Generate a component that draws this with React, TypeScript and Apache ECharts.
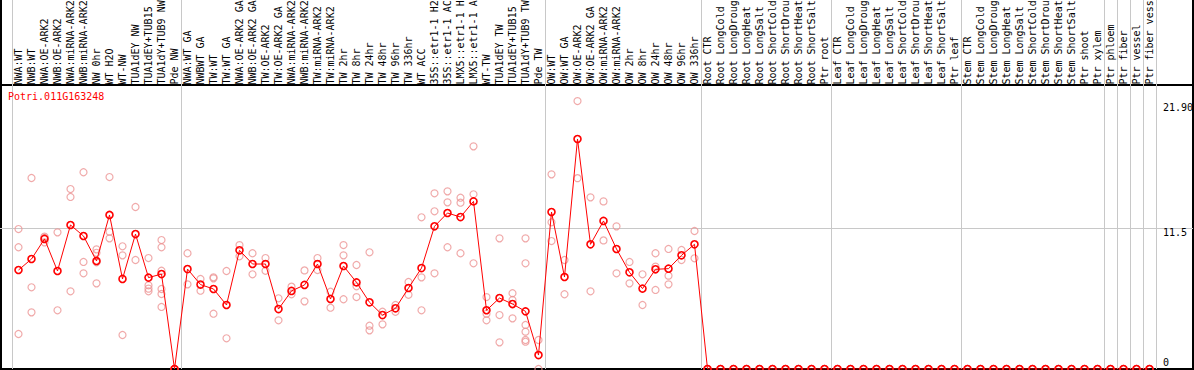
import React, { useEffect, useRef } from "react";
import * as echarts from "echarts";

const geneId = "Potri.011G163248";

const categories = [
  "NWA:WT", "NWB:WT", "NWA:OE-ARK2", "NWB:OE-ARK2", "NWA:miRNA-ARK2", "NWB:miRNA-ARK2",
  "NW 0hr", "WT H2O", "WT-NW", "TUA1dEY NW", "TUA1dEY+TUB15 NW", "TUA1dY+TUB9 NW", "Pde NW",
  "NWA:WT GA", "NWBWT GA", "TW:WT", "TW:WT GA", "NWA:OE-ARK2 GA", "NWB:OE-ARK2 GA",
  "TW:OE-ARK2", "TW:OE-ARK2 GA", "NWA:miRNA-ARK2 GA", "NWB:miRNA-ARK2 GA", "TW:miRNA-ARK2",
  "TW:miRNA-ARK2 GA", "TW 2hr", "TW 8hr", "TW 24hr", "TW 48hr", "TW 96hr", "TW 336hr", "WT ACC",
  "35S::etr1-1 H2O", "35S::etr1-1 ACC", "LMX5::etr1-1 H2O", "LMX5::etr1-1 ACC", "WT-TW",
  "TUA1dEY TW", "TUA1dEY+TUB15 TW", "TUA1dY+TUB9 TW", "Pde TW",
  "OW:WT", "OW:WT GA", "OW:OE-ARK2", "OW:OE-ARK2 GA", "OW:miRNA-ARK2", "OW:miRNA-ARK2 GA",
  "OW 2hr", "OW 8hr", "OW 24hr", "OW 48hr", "OW 96hr", "OW 336hr",
  "Root CTR", "Root LongCold", "Root LongDrought", "Root LongHeat", "Root LongSalt",
  "Root ShortCold", "Root ShortDrought", "Root ShortHeat", "Root ShortSalt", "Ptr root",
  "Leaf CTR", "Leaf LongCold", "Leaf LongDrought", "Leaf LongHeat", "Leaf LongSalt",
  "Leaf ShortCold", "Leaf ShortDrought", "Leaf ShortHeat", "Leaf ShortSalt", "Ptr leaf",
  "Stem CTR", "Stem LongCold", "Stem LongDrought", "Stem LongHeat", "Stem LongSalt",
  "Stem ShortCold", "Stem ShortDrought", "Stem ShortHeat", "Stem ShortSalt", "Ptr shoot", "Ptr xylem",
  "Ptr phloem", "Ptr fiber", "Ptr vessel", "Ptr fiber vessel",
];

const meanValues = [
  8.09, 8.99, 10.63, 8.01, 11.77, 10.87, 8.83, 12.59, 7.36, 11.03, 7.47, 7.76, 0,
  8.17, 6.9, 6.54, 5.23, 9.7, 8.58, 8.58, 4.9, 6.38, 6.87, 8.58, 5.72, 8.42, 7.08, 5.45,
  4.41, 4.96, 6.62, 8.25, 11.66, 12.75, 12.42, 13.7, 4.8, 5.8, 5.31, 4.71, 1.14,
  12.83, 7.52, 18.8, 10.19, 12.1, 9.81, 7.9, 6.57, 8.15, 8.2, 9.29, 10.19,
  0, 0, 0, 0, 0, 0, 0, 0, 0, 0,
  0, 0, 0, 0, 0, 0, 0, 0, 0, 0,
  0, 0, 0, 0, 0, 0, 0, 0, 0, 0, 0,
  0, 0, 0, 0,
];

const replicateValues = [
  [11.44, 9.95, 2.86], [15.61, 6.68, 4.63], [10.82, 10.72, 10.35], [11.17, 4.8],
  [14.71, 14.06, 6.35], [16.08, 8.75, 7.82], [9.78, 9.5, 8.72, 7.0], [15.69, 11.22, 10.68],
  [10.03, 9.29, 2.78], [13.24, 8.91], [9.07, 6.84, 6.57, 6.35], [10.54, 9.95, 8.03, 6.54, 6.13, 5.07],
  [0, 0, 0],
  [9.46, 6.92], [7.36, 6.4], [7.49, 7.41, 4.52], [8.01, 2.51], [10.13, 9.21], [9.46, 7.74],
  [9.07, 8.03], [5.78, 3.98], [6.73, 6.11], [8.06, 5.53], [9.07, 8.09], [6.32, 5.01],
  [10.13, 9.29, 5.7], [8.5, 6.76, 5.88], [9.54, 3.54, 3.16], [4.68, 3.65], [5.23, 4.68],
  [7.11, 6.07], [12.4, 7.49, 4.8], [14.36, 12.89, 7.82], [14.52, 13.62, 9.95],
  [14.0, 13.59, 9.46], [18.2, 14.28, 8.64], [5.88, 4.52, 3.98], [10.68, 4.41, 2.18],
  [6.19, 5.64, 4.14], [10.68, 8.64, 3.6, 3.05, 2.37, 2.23], [2.37, 0],
  [15.91, 11.99, 10.46], [8.91, 6.11], [21.9, 15.6], [14.03, 6.35], [13.7, 10.51],
  [11.66, 7.82], [8.75, 7.0], [7.74, 5.23], [9.46, 8.37, 6.46], [9.81, 7.63, 6.92],
  [9.73, 8.91], [11.28, 9.05],
  [0, 0], [0, 0], [0, 0], [0, 0], [0, 0], [0, 0], [0, 0], [0, 0], [0, 0], [0, 0],
  [0, 0], [0, 0], [0, 0], [0, 0], [0, 0], [0, 0], [0, 0], [0, 0], [0, 0], [0, 0],
  [0, 0], [0, 0], [0, 0], [0, 0], [0, 0], [0, 0], [0, 0], [0, 0], [0, 0], [0, 0], [0, 0],
  [0, 0], [0, 0], [0, 0], [0, 0],
];

const groupStarts = [0, 13, 41, 53, 63, 73, 84, 85, 86, 87];
const yLabelValues = [0, 11.5, 21.9];
const yLabelTexts = ["0", "11.5", "21.90"];
const yMax = 23;

export default function App() {
  const ref = useRef<HTMLDivElement>(null);

  useEffect(() => {
    const chart = echarts.init(ref.current as HTMLDivElement, null, { renderer: "svg" });
    const mono = "'DejaVu Sans Mono', monospace";
    const replicatePoints: number[][] = [];
    replicateValues.forEach((vals, i) => vals.forEach((v) => replicatePoints.push([i, v])));

    const split = {
      show: true,
      interval: (i: number) => groupStarts.indexOf(i) >= 0,
      lineStyle: { color: "#c8c8c8", width: 1 },
    };
    const bandW = 13;
    const gridL = 12;
    const gridW = categories.length * bandW;
    const plotTop = 87.6;
    const plotH = 369 - plotTop;

    chart.setOption({
      animation: false,
      backgroundColor: "#ffffff",
      title: {
        text: geneId,
        left: 8,
        top: 91,
        padding: 0,
        textStyle: { color: "#ff0000", fontSize: 10, fontWeight: "normal", fontFamily: mono },
      },
      grid: [
        { left: gridL, width: gridW, top: 0, height: 88, outerBoundsMode: "none", containLabel: false },
        { left: gridL, width: gridW, top: plotTop, height: plotH, outerBoundsMode: "none", containLabel: false },
        { left: 0, width: 1193, top: plotTop, height: plotH, outerBoundsMode: "none", containLabel: false },
      ],
      xAxis: [
        {
          type: "category", gridIndex: 0, data: categories,
          axisLine: { show: false }, axisTick: { show: false }, axisLabel: { show: false },
          splitLine: split,
        },
        {
          type: "category", gridIndex: 1, position: "top", data: categories,
          axisLine: { show: false }, axisTick: { show: false },
          axisLabel: {
            interval: 0, rotate: 90, margin: 3, fontFamily: mono, fontSize: 10, color: "#000",
            hideOverlap: false, width: 89, overflow: "truncate", ellipsis: "",
          },
          splitLine: split,
        },
        { type: "value", gridIndex: 2, show: false, min: 0, max: 1 },
      ],
      yAxis: [
        { type: "value", gridIndex: 0, show: false, min: 0, max: 1 },
        { type: "value", gridIndex: 1, show: false, min: 0, max: yMax },
        {
          type: "value", gridIndex: 2, position: "right", min: 0, max: yMax, interval: 11.5,
          axisLine: { show: false }, axisTick: { show: false },
          splitLine: { show: true, showMinLine: false, showMaxLine: false, lineStyle: { color: "#c8c8c8", width: 1 } },
          axisLabel: {
            inside: true, margin: 30, align: "left",
            customValues: yLabelValues,
            formatter: (v: number) => {
              const idx = yLabelValues.indexOf(v);
              const t = idx >= 0 ? yLabelTexts[idx] : String(v);
              if (v === 0) return `{lo|${t}}`;
              if (v > 15) return `{hi|${t}}`;
              return `{mid|${t}}`;
            },
            rich: {
              hi: { padding: [12, 0, 0, 0], fontFamily: mono, fontSize: 10, color: "#000" },
              mid: { padding: [8, 0, 0, 0], fontFamily: mono, fontSize: 10, color: "#000" },
              lo: { padding: [0, 0, 14, 0], fontFamily: mono, fontSize: 10, color: "#000" },
            },
          },
        },
      ],
      series: [
        {
          type: "scatter", xAxisIndex: 1, yAxisIndex: 1, data: replicatePoints,
          symbol: "circle", symbolSize: 7, silent: true, z: 2,
          itemStyle: { color: "rgba(0,0,0,0)", borderColor: "#ec9595", borderWidth: 1.2 },
        },
        {
          type: "line", xAxisIndex: 1, yAxisIndex: 1, data: meanValues,
          symbol: "circle", symbolSize: 7, showAllSymbol: true, silent: true, z: 3,
          lineStyle: { color: "#ff0000", width: 1 },
          itemStyle: { color: "rgba(0,0,0,0)", borderColor: "#ff0000", borderWidth: 1.6 },
        },
      ],
      graphic: [
        { type: "line", z: 0, shape: { x1: 1, y1: 0, x2: 1, y2: 370 }, style: { stroke: "#000", lineWidth: 2 } },
        { type: "line", z: 0, shape: { x1: 1193, y1: 0, x2: 1193, y2: 370 }, style: { stroke: "#000", lineWidth: 2 } },
        { type: "line", z: 0, shape: { x1: 0, y1: 85, x2: 1194, y2: 85 }, style: { stroke: "#000", lineWidth: 2 } },
        { type: "line", z: 0, shape: { x1: 0, y1: 369, x2: 1194, y2: 369 }, style: { stroke: "#000", lineWidth: 2 } },
      ],
    });

    return () => chart.dispose();
  }, []);

  return (
    <div
      ref={ref}
      style={{ position: "fixed", left: 0, top: 0, width: 1194, height: 370 }}
    />
  );
}
